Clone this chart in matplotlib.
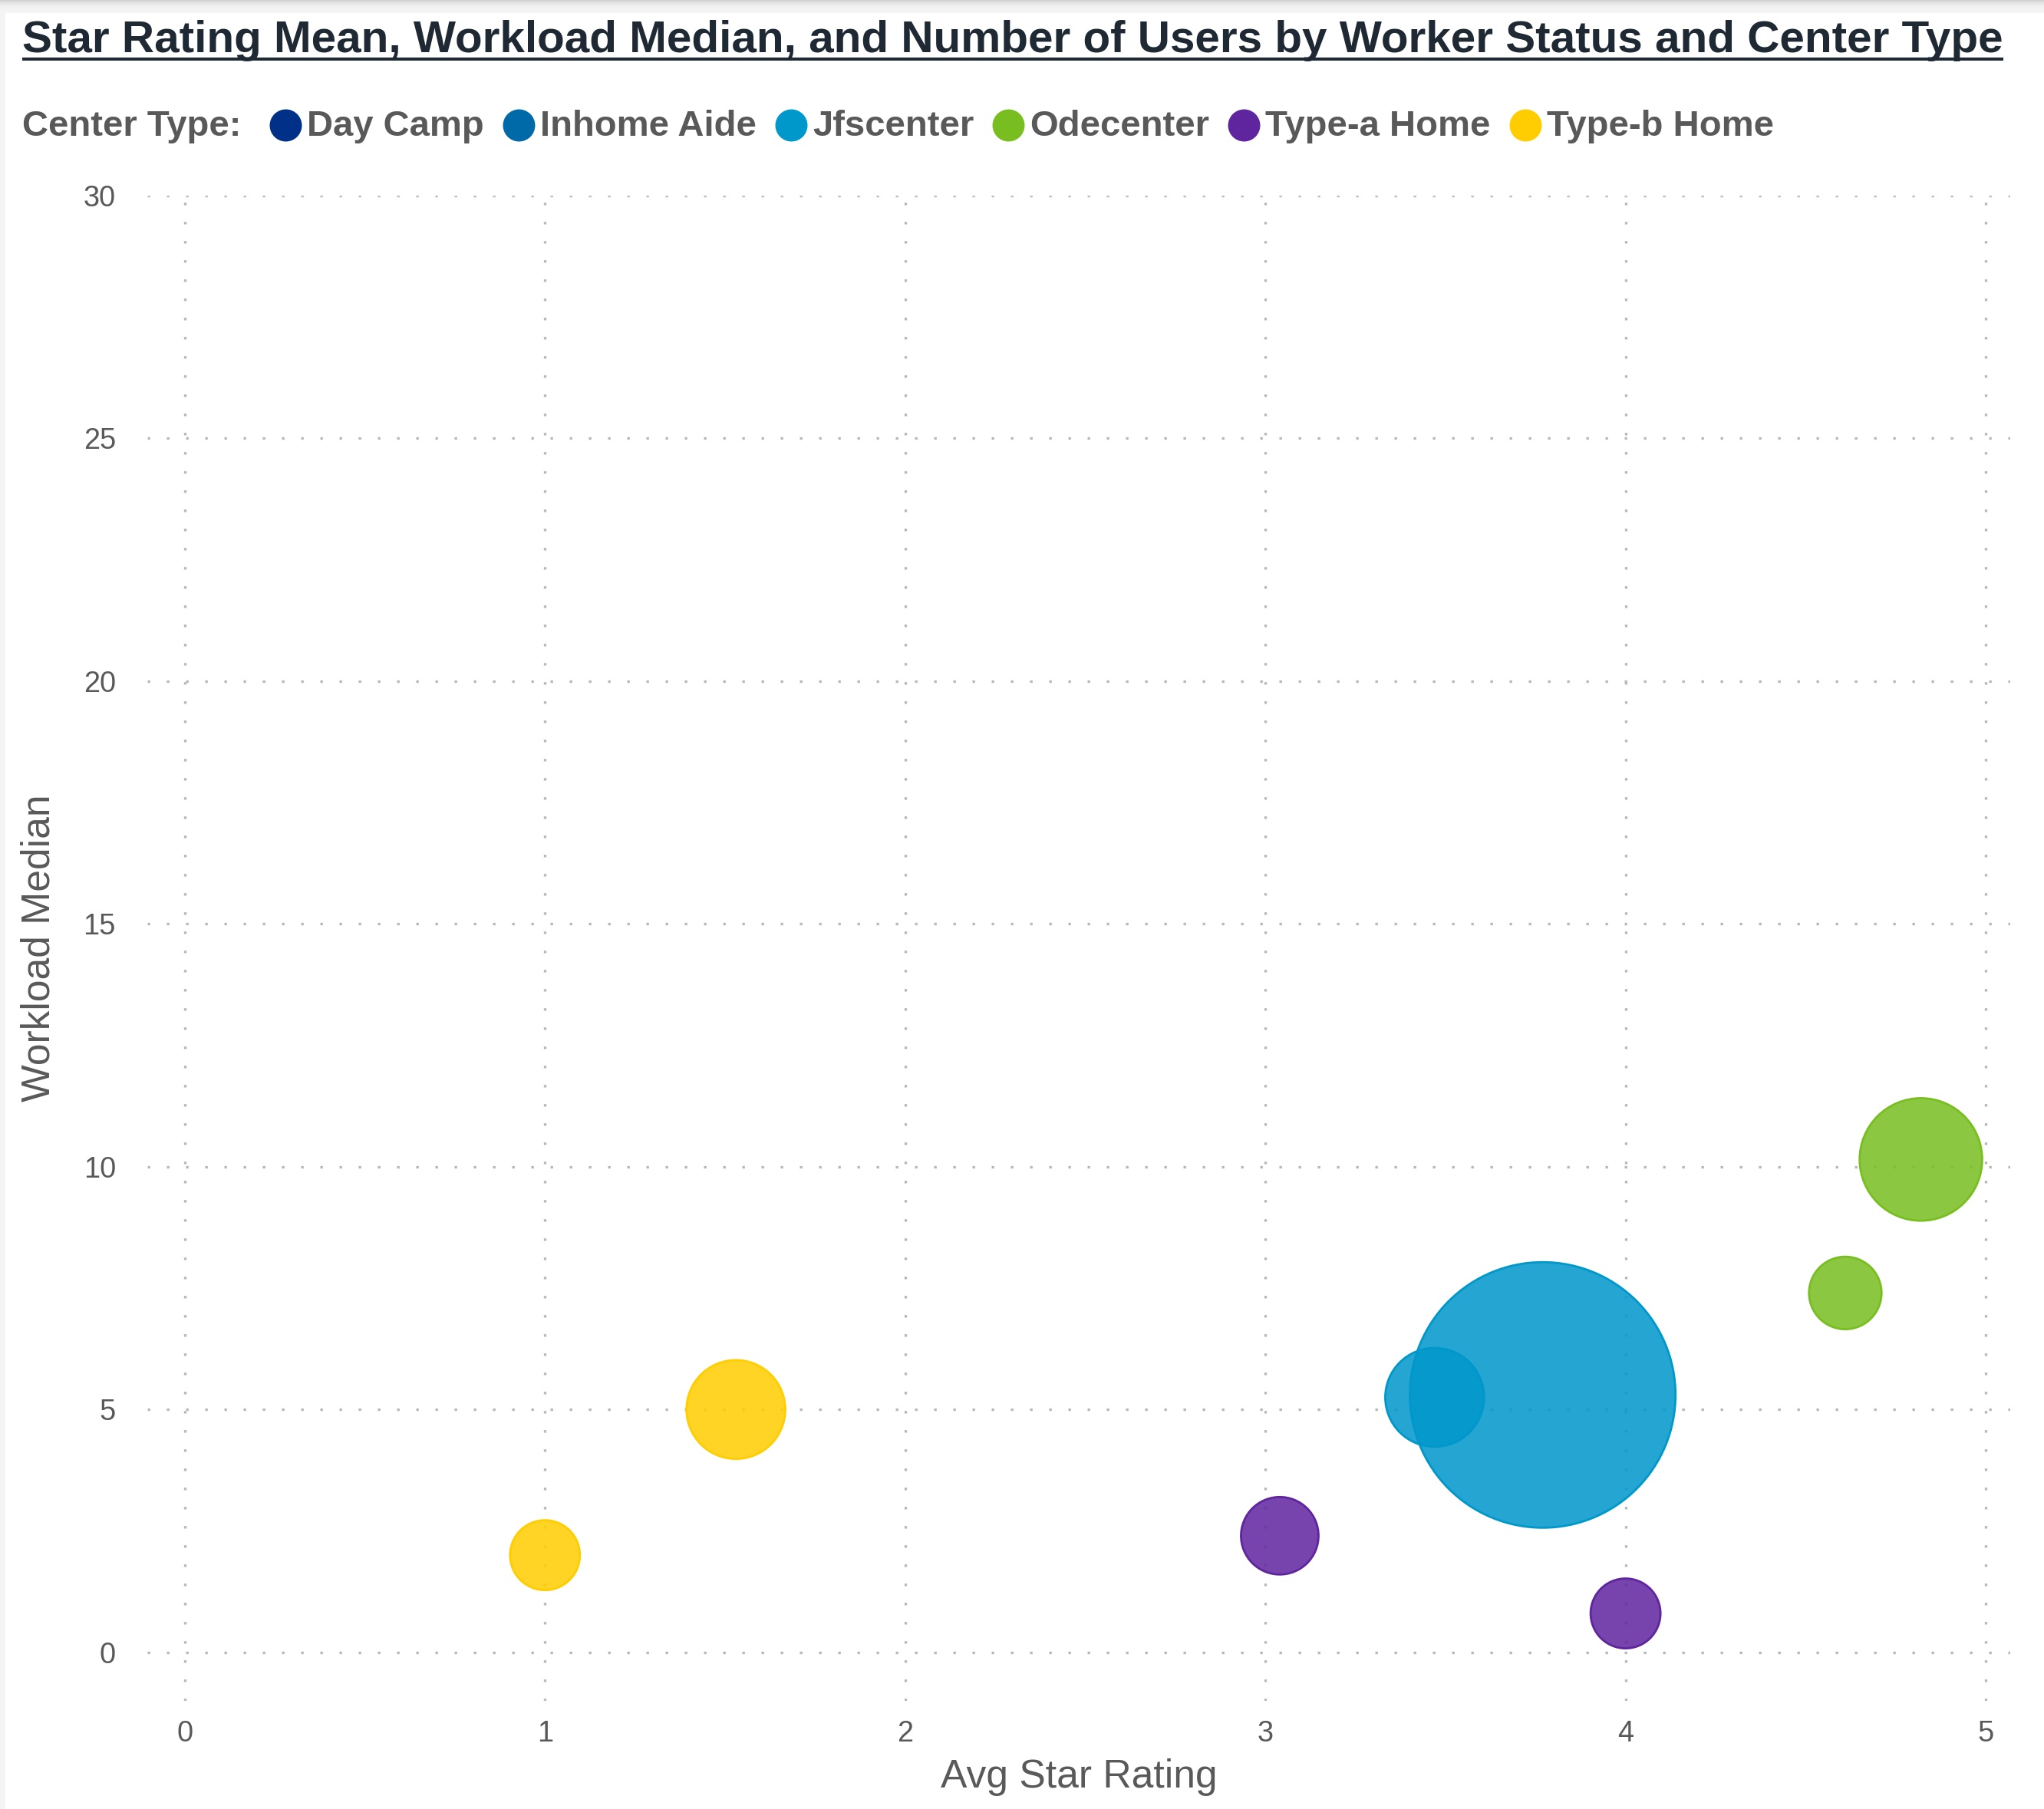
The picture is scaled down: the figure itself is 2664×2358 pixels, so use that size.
import matplotlib
matplotlib.use('Agg')
import matplotlib.pyplot as plt
from matplotlib.lines import Line2D
from matplotlib.patches import Rectangle
from matplotlib.colors import to_rgb

plt.rcParams['font.family'] = ['Liberation Sans', 'DejaVu Sans']

# ---------------- data ----------------
title = "Star Rating Mean, Workload Median, and Number of Users by Worker Status and Center Type"
legend_title = "Center Type:"
categories = ["Day Camp", "Inhome Aide", "Jfscenter", "Odecenter", "Type-a Home", "Type-b Home"]
cat_colors = ["#003087", "#0069A8", "#0097CB", "#78BE21", "#5F259F", "#FFCD00"]

point_type = ["Type-b Home", "Type-b Home", "Type-a Home", "Type-a Home",
              "Jfscenter", "Jfscenter", "Odecenter", "Odecenter"]
avg_star = [1.00, 1.53, 3.04, 4.00, 3.77, 3.47, 4.61, 4.82]
workload_median = [2.0, 5.0, 2.4, 0.8, 5.3, 5.25, 7.4, 10.15]
num_users = [13, 26, 16, 13, 188, 26, 14, 40]

x_ticks = [0, 1, 2, 3, 4, 5]
y_ticks = [0, 5, 10, 15, 20, 25, 30]
x_label = "Avg Star Rating"
y_label = "Workload Median"

# ---------------- figure ----------------
W, H = 2664, 2358
DPI = 200
fig = plt.figure(figsize=(W / DPI, H / DPI), dpi=DPI)
fig.patch.set_facecolor("white")


def fx(px):
    return px / W


def fy(py):
    return 1 - py / H


# card-like edges of the screenshot
top_cols = ["#d2d2d2", "#d8d8d8", "#dddddd", "#e2e2e2", "#e6e6e6", "#e9e9e9", "#ececec",
            "#eeeeee", "#f0f0f0", "#f1f1f1", "#f2f2f2", "#f3f3f3", "#f3f3f3", "#f4f4f4",
            "#f4f4f4", "#f5f5f5", "#f5f5f5"]
for i, c in enumerate(top_cols):
    fig.add_artist(Rectangle((0, fy(i + 1)), 1, 1 / H, facecolor=c, edgecolor="none", zorder=0))
fig.add_artist(Rectangle((0, 0), 7 / W, fy(17), facecolor="#f4f4f4", edgecolor="none", zorder=0))

ax = fig.add_axes([fx(192), fy(2217), fx(2620) - fx(192), fy(255) - fy(2217)])
ax.set_xlim(-0.104, 5.068)
ax.set_ylim(-1.0, 30)
ax.set_xticks(x_ticks)
ax.set_yticks(y_ticks)
ax.set_xticklabels([str(v) for v in x_ticks])
ax.set_yticklabels([str(v) for v in y_ticks])
ax.grid(True, color="#b8b8b8", linestyle=(0, (1, 6.5)), linewidth=1.2)
ax.set_axisbelow(True)
for s in ax.spines.values():
    s.set_visible(False)
ax.tick_params(axis="both", length=0, labelsize=13.7, labelcolor="#595959")
ax.tick_params(axis="x", pad=9)
ax.tick_params(axis="y", pad=14.8)

# bubble size: points^2 per user
k = 82.6
color_map = dict(zip(categories, cat_colors))
for cat in categories:
    idx = [i for i, t in enumerate(point_type) if t == cat]
    if not idx:
        continue
    col = color_map[cat]
    idx = sorted(idx, key=lambda i: -num_users[i])
    ax.scatter([avg_star[i] for i in idx], [workload_median[i] for i in idx],
               s=[num_users[i] * k for i in idx],
               facecolor=(*to_rgb(col), 0.86), edgecolor=col, linewidth=1.0, zorder=3)

# axis labels
fig.text(fx(1406), fy(2330), x_label, ha="center", va="baseline", fontsize=18.6, color="#595959")
fig.text(fx(51), fy(1236), y_label, rotation=90, ha="center", va="center", fontsize=18.6, color="#595959")

# title with underline
t = fig.text(fx(29), fy(68), title, fontsize=21.0, fontweight="bold", color="#1f2933", va="baseline")
fig.canvas.draw()
renderer = fig.canvas.get_renderer()
bb = t.get_window_extent(renderer)
fig.add_artist(Line2D([bb.x0 / W, bb.x1 / W], [fy(76.5), fy(76.5)], color="#1f2933",
                      linewidth=1.45, transform=fig.transFigure, solid_capstyle="butt"))

# legend
cursor = 29
lt = fig.text(fx(cursor), fy(177), legend_title, fontsize=17, fontweight="bold", color="#595959", va="baseline")
cursor = lt.get_window_extent(renderer).x1 + 37
for cat, col in zip(categories, cat_colors):
    fig.add_artist(Line2D([fx(cursor + 21)], [fy(163)], marker="o", markersize=15.1, color=col,
                          markeredgewidth=0, linestyle="none", transform=fig.transFigure))
    tt = fig.text(fx(cursor + 49), fy(177), cat, fontsize=17, fontweight="bold", color="#595959", va="baseline")
    cursor = tt.get_window_extent(renderer).x1 + 24

fig.savefig("out.png", dpi=DPI)
